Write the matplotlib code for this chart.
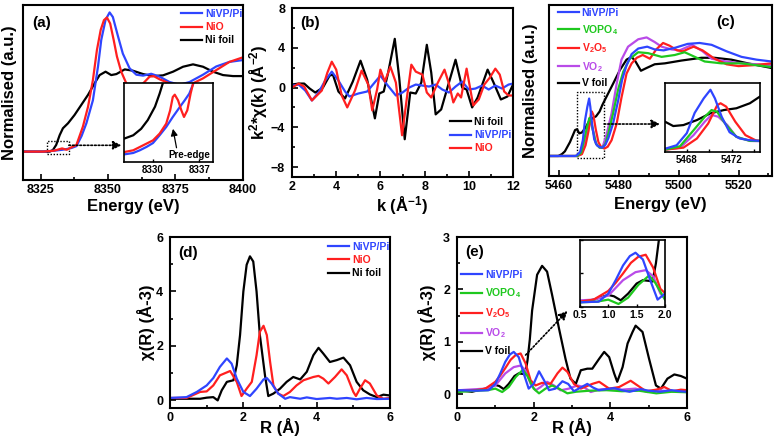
import matplotlib
matplotlib.use('Agg')
import matplotlib.pyplot as plt
from matplotlib.patches import Rectangle
from matplotlib.ticker import MultipleLocator

plt.rcParams['font.family'] = ['Liberation Sans', 'DejaVu Sans']
plt.rcParams['font.weight'] = 'bold'
plt.rcParams['axes.labelweight'] = 'bold'
plt.rcParams['mathtext.fontset'] = 'custom'
plt.rcParams['mathtext.rm'] = 'Liberation Sans:bold'
plt.rcParams['mathtext.it'] = 'Liberation Sans:bold'
plt.rcParams['mathtext.bf'] = 'Liberation Sans:bold'
plt.rcParams['mathtext.default'] = 'rm'

BLUE = '#2f45ff'
RED = '#ff1f1f'
GREEN = '#1ec81e'
PURPLE = '#b94be8'
BLACK = 'black'

# ---------------- (a) Ni K-edge XANES ----------------
nivp_a_e = [8318.5, 8326, 8330, 8333, 8335, 8336.5, 8338.3, 8340.2, 8342, 8344.4, 8346.3, 8347.5,
            8349.1, 8350.6, 8351.8, 8353.7, 8355.5, 8358, 8360.5, 8363, 8366, 8369, 8372.8,
            8376.5, 8380.2, 8385.2, 8390.1, 8395, 8400]
nivp_a_mu = [0.0, 0.0, 0.01, 0.02, 0.03, 0.04, 0.06, 0.17, 0.31, 0.56, 0.93, 1.22, 1.44, 1.52, 1.47,
             1.26, 1.07, 0.91, 0.84, 0.83, 0.85, 0.82, 0.76, 0.73, 0.76, 0.84, 0.93, 0.98, 1.0]
nio_a_e = [8318.5, 8326, 8330, 8333, 8334.7, 8336, 8338.3, 8340.7, 8342.6, 8344.4, 8345.9, 8347.3,
           8348.5, 8349.6, 8350.8, 8352.1, 8353.3, 8354.9, 8356.8, 8358.6, 8361.1, 8363, 8365.4,
           8366.9, 8369.1, 8372.8, 8376.5, 8380.2, 8385.2, 8390.1, 8395, 8400]
nio_a_mu = [0.0, 0.0, 0.01, 0.035, 0.02, 0.04, 0.073, 0.273, 0.49, 0.78, 1.11, 1.33, 1.436, 1.465,
            1.40, 1.22, 1.04, 0.873, 0.745, 0.70, 0.69, 0.745, 0.818, 0.825, 0.79, 0.745, 0.70,
            0.727, 0.80, 0.89, 0.98, 1.03]
nifoil_a_e = [8318.5, 8328.4, 8329.6, 8330.8, 8332.1, 8333.3, 8335.2, 8337.6, 8340.1, 8342.6,
              8345.0, 8346.9, 8349.1, 8351.2, 8353.1, 8356.2, 8359.2, 8363, 8366.6, 8370.4,
              8374.1, 8377.8, 8381.5, 8385.2, 8388.9, 8392.6, 8396.3, 8400]
nifoil_a_mu = [0.0, 0.0, 0.018, 0.073, 0.18, 0.255, 0.31, 0.40, 0.51, 0.62, 0.745, 0.836, 0.873,
               0.836, 0.847, 0.898, 0.884, 0.847, 0.825, 0.833, 0.873, 0.927, 0.953, 0.927,
               0.873, 0.836, 0.825, 0.825]

# pre-edge zoom (inset of a)
nifoil_pre_e = [8325.6, 8327, 8328.2, 8329.2, 8330.3, 8331, 8331.5, 8331.9]
nifoil_pre_mu = [0.0295, 0.0338, 0.042, 0.053, 0.070, 0.0865, 0.100, 0.108]
nio_pre_e = [8325.7, 8327, 8328, 8329, 8330, 8331, 8332, 8332.6, 8333, 8333.3, 8333.8, 8334.3,
             8334.7, 8335.2, 8335.7, 8336.1, 8336.3]
nio_pre_mu = [0.0127, 0.0148, 0.019, 0.0232, 0.0274, 0.0359, 0.0485, 0.0654, 0.0823, 0.0852,
              0.078, 0.0654, 0.057, 0.0654, 0.0865, 0.100, 0.112]
nivp_pre_e = [8325.7, 8327, 8328, 8329, 8330, 8331, 8332, 8333, 8334.1, 8334.8, 8335.5, 8336.1,
              8336.6]
nivp_pre_mu = [0.0097, 0.0114, 0.0148, 0.019, 0.024, 0.0338, 0.0443, 0.057, 0.070, 0.078, 0.0865,
               0.099, 0.112]

# ---------------- (b) k-space EXAFS ----------------
nifoil_k = [2.0, 2.3, 2.55, 2.8, 3.05, 3.4, 3.7, 3.85, 4.1, 4.4, 4.75, 5.1, 5.4, 5.75, 5.95, 6.15,
            6.35, 6.65, 6.85, 7.1, 7.35, 7.6, 7.85, 8.1, 8.3, 8.5, 8.75, 9.1, 9.4, 9.7, 9.9,
            10.15, 10.4, 10.85, 11.1, 11.45, 11.75, 12.0]
nifoil_chi = [0.3, 0.4, 0.4, -0.1, -0.5, 0.0, 1.2, 1.3, -0.4, -1.1, 0.6, 2.7, 0.8, -3.1, -0.6,
              -0.4, 1.5, 4.9, 1.0, -5.2, -0.5, -0.6, 0.5, 4.3, 1.5, -2.7, -2.2, 0.5, 2.8, 0.0,
              -0.2, -2.0, -1.0, 1.8, 0.6, -1.2, -0.9, 0.3]
nivp_k = [2.0, 2.3, 2.6, 2.9, 3.2, 3.5, 3.8, 4.1, 4.4, 4.6, 5.0, 5.4, 5.7, 6.0, 6.3, 6.7, 7.0, 7.3,
          7.6, 7.9, 8.2, 8.5, 8.8, 9.1, 9.4, 9.7, 10.0, 10.3, 10.6, 10.9, 11.2, 11.5, 11.8, 12.0]
nivp_chi = [0.2, 0.3, -0.3, -1.3, -0.5, 0.7, 1.6, 0.7, -0.4, -0.9, -0.6, -0.4, 0.4, 1.2, 0.3,
            -0.8, -0.5, 0.0, 0.3, 0.2, 0.1, 0.3, -0.2, -0.5, 0.1, 0.6, -0.2, -0.1, 0.2, -0.2, 0.2,
            -0.1, 0.3, 0.4]
nio_k = [2.0, 2.3, 2.55, 2.9, 3.35, 3.6, 3.8, 4.0, 4.25, 4.5, 4.85, 5.15, 5.45, 5.63, 5.85, 6.0,
         6.2, 6.45, 6.7, 6.98, 7.2, 7.4, 7.6, 7.9, 8.1, 8.3, 8.6, 8.9, 9.1, 9.3, 9.5, 9.65, 9.9,
         10.2, 10.45, 10.7, 10.95, 11.2, 11.4, 11.6, 11.8, 12.0]
nio_chi = [0.0, 0.4, 0.1, -1.3, -0.3, 1.5, 2.6, 1.8, -0.8, -2.0, -0.3, 1.7, 0.3, -2.3, -0.2, 1.8,
           0.6, 2.1, 0.5, -4.8, -1.0, 2.3, 1.6, 1.3, -0.5, -1.0, 0.5, 1.8, 0.4, -1.5, -0.6, -1.0,
           1.9, -1.8, -1.2, 0.3, 1.0, 1.9, 1.3, -0.4, -0.8, -0.8]

# ---------------- (c) V K-edge XANES ----------------
nivp_c_e = [5456.7, 5462, 5465.5, 5466.1, 5467.1, 5468.0, 5468.7, 5469.5, 5470.1, 5470.5, 5471.1,
            5471.8, 5472.7, 5473.6, 5474.5, 5475.5, 5476.5, 5478.1, 5479.8, 5481.1, 5482.6,
            5484.3, 5486.5, 5489.5, 5492, 5495, 5499, 5503, 5507, 5511, 5516, 5521, 5526, 5531]
nivp_c_mu = [0, 0, 0.0, 0.01, 0.045, 0.17, 0.38, 0.53, 0.62, 0.53, 0.34, 0.18, 0.115, 0.097,
             0.09, 0.12, 0.19, 0.35, 0.60, 0.82, 0.98, 1.10, 1.16, 1.18, 1.15, 1.14, 1.17, 1.21,
             1.22, 1.20, 1.13, 1.07, 1.04, 1.02]
vopo4_c_e = [5456.7, 5462, 5466.1, 5467.4, 5468.6, 5469.6, 5470.2, 5470.7, 5471.4, 5472.4, 5473.6,
             5474.5, 5475.5, 5476.5, 5478.1, 5479.8, 5481.5, 5483.7, 5486.5, 5489.8, 5494.3,
             5498.7, 5502, 5505.4, 5508.7, 5514.3, 5521, 5531]
vopo4_c_mu = [0, 0, 0.0, 0.035, 0.2, 0.34, 0.41, 0.39, 0.27, 0.132, 0.09, 0.09, 0.13, 0.24, 0.46,
              0.72, 0.91, 1.05, 1.12, 1.11, 1.07, 1.09, 1.12, 1.07, 1.02, 1.0, 1.0, 0.96]
v2o5_c_e = [5456.7, 5462, 5466.1, 5467.7, 5468.9, 5469.9, 5470.7, 5471.0, 5471.5, 5472.3, 5473.2,
            5474.1, 5475.2, 5476.3, 5477.6, 5479.3, 5480.9, 5482.6, 5484.3, 5486, 5488, 5490.4,
            5492.5, 5494.8, 5497, 5499.5, 5501.5, 5503.5, 5505, 5508, 5512, 5516, 5520, 5525, 5531]
v2o5_c_mu = [0, 0, 0.0, 0.02, 0.115, 0.27, 0.46, 0.48, 0.445, 0.29, 0.15, 0.097, 0.08, 0.1, 0.17,
             0.35, 0.63, 0.89, 1.0, 1.06, 1.09, 1.05, 1.15, 1.22, 1.19, 1.14, 1.13, 1.16, 1.18,
             1.14, 1.05, 0.99, 0.97, 0.98, 1.0]
vo2_c_e = [5456.7, 5462, 5466.1, 5467.4, 5468.6, 5469.6, 5470.2, 5470.8, 5471.6, 5472.4, 5473.6,
           5474.5, 5475.9, 5477.6, 5479.3, 5480.9, 5483.1, 5486.5, 5489.3, 5492, 5494.3, 5497.6,
           5500.3, 5504.5, 5508, 5511, 5515.9, 5521, 5531]
vo2_c_mu = [0, 0, 0.0, 0.02, 0.15, 0.29, 0.36, 0.34, 0.254, 0.132, 0.09, 0.087, 0.23, 0.46, 0.78,
            1.04, 1.18, 1.26, 1.28, 1.23, 1.18, 1.15, 1.14, 1.20, 1.13, 1.05, 1.02, 1.0, 0.98]
vfoil_c_e = [5456.7, 5459.8, 5461, 5462, 5463.7, 5465.4, 5466.07, 5466.8, 5467.7, 5468.9, 5470.1,
             5471.3, 5472.4, 5473.6, 5474.5, 5475.9, 5478.1, 5480.4, 5482.6, 5484.3, 5485.6,
             5487.4, 5489.3, 5492, 5495.4, 5500.9, 5507.6, 5512, 5517.6, 5523.1, 5531]
vfoil_c_mu = [0, 0, 0.02, 0.05, 0.15, 0.28, 0.289, 0.244, 0.254, 0.306, 0.376, 0.41, 0.428, 0.48,
              0.55, 0.64, 0.78, 0.93, 1.04, 1.07, 1.02, 0.92, 0.95, 0.99, 1.00, 1.03, 1.06, 1.06,
              1.04, 1.00, 0.95]

# ---------------- (d) Ni R-space ----------------
nivp_d_r = [0, 0.45, 0.73, 1.0, 1.18, 1.36, 1.55, 1.68, 1.82, 2.0, 2.18, 2.36, 2.55, 2.64, 2.77,
            2.95, 3.14, 3.27, 3.55, 3.73, 4.0, 4.36, 4.55, 4.82, 5.09, 5.36, 5.64, 6.0]
nivp_d_chi = [0.09, 0.12, 0.31, 0.55, 0.82, 1.23, 1.54, 1.35, 0.8, 0.31, 0.16, 0.43, 0.77, 0.82,
              0.62, 0.25, 0.06, 0.12, 0.06, 0.11, 0.05, 0.09, 0.06, 0.09, 0.04, 0.09, 0.05, 0.06]
nio_d_r = [0, 0.45, 0.82, 1.0, 1.18, 1.36, 1.5, 1.64, 1.82, 1.95, 2.09, 2.23, 2.36, 2.45, 2.55,
           2.64, 2.73, 2.82, 2.95, 3.09, 3.27, 3.45, 3.64, 3.91, 4.05, 4.18, 4.32, 4.5, 4.68, 4.82,
           5.0, 5.07, 5.18, 5.32, 5.45, 5.64, 5.82, 6.0]
nio_d_chi = [0.09, 0.09, 0.31, 0.33, 0.55, 0.92, 1.0, 1.08, 0.68, 0.16, 0.43, 0.68, 1.66, 2.52,
             2.74, 2.40, 1.41, 0.55, 0.25, 0.16, 0.31, 0.55, 0.74, 0.86, 0.9, 0.8, 0.62, 0.86,
             1.14, 0.92, 0.31, 0.16, 0.43, 0.74, 0.62, 0.18, 0.06, 0.09]
nifoil_d_r = [0, 0.45, 0.82, 1.0, 1.18, 1.3, 1.41, 1.55, 1.73, 1.82, 1.91, 2.0, 2.09, 2.18, 2.27,
              2.36, 2.45, 2.59, 2.68, 2.82, 3.0, 3.18, 3.36, 3.55, 3.73, 3.91, 4.05, 4.18, 4.36,
              4.55, 4.73, 4.91, 5.09, 5.27, 5.45, 5.64, 5.82, 6.0]
nifoil_d_chi = [0.06, 0.06, 0.06, 0.1, 0.12, 0.0, 0.37, 0.68, 0.74, 1.29, 2.40, 4.0, 4.98, 5.29,
                5.1, 4.0, 2.4, 0.92, 0.16, 0.25, 0.43, 0.68, 0.86, 0.77, 1.05, 1.66, 1.93, 1.72,
                1.41, 1.48, 1.57, 1.29, 0.68, 0.37, 0.22, 0.12, 0.21, 0.18]

# ---------------- (e) V R-space ----------------
nivp_e_r = [0, 0.5, 0.83, 1.0, 1.13, 1.26, 1.38, 1.48, 1.61, 1.74, 1.87, 2.0, 2.14, 2.27, 2.40,
            2.57, 2.75, 2.9, 3.05, 3.2, 3.4, 3.55, 3.7, 3.9, 4.1, 4.3, 4.5, 4.8, 5.0, 5.3, 5.6,
            5.8, 6.0]
nivp_e_chi = [0.08, 0.07, 0.08, 0.2, 0.4, 0.62, 0.76, 0.81, 0.71, 0.40, 0.11, 0.2, 0.44, 0.27,
              0.08, 0.11, 0.25, 0.2, 0.06, 0.12, 0.2, 0.13, 0.08, 0.1, 0.12, 0.08, 0.05, 0.1,
              0.07, 0.05, 0.08, 0.06, 0.05]
vopo4_e_r = [0, 0.5, 0.8, 1.0, 1.18, 1.35, 1.53, 1.72, 1.83, 2.0, 2.14, 2.31, 2.48, 2.66, 2.88,
             3.1, 3.45, 3.9, 4.3, 4.75, 5.2, 5.6, 6.0]
vopo4_e_chi = [0.045, 0.07, 0.08, 0.11, 0.045, 0.14, 0.33, 0.47, 0.36, 0.11, 0.02, 0.11, 0.17,
               0.11, 0.02, 0.05, 0.07, 0.08, 0.06, 0.07, 0.02, 0.05, 0.04]
v2o5_e_r = [0, 0.5, 0.74, 1.0, 1.13, 1.26, 1.4, 1.53, 1.66, 1.79, 1.92, 2.05, 2.22, 2.44, 2.62,
            2.75, 2.88, 3.05, 3.23, 3.53, 3.71, 3.97, 4.23, 4.53, 4.71, 4.93, 5.2, 5.41, 5.62,
            5.84, 6.0]
v2o5_e_chi = [0.06, 0.08, 0.11, 0.24, 0.36, 0.5, 0.66, 0.75, 0.78, 0.59, 0.27, 0.17, 0.22, 0.2,
              0.4, 0.51, 0.43, 0.2, 0.11, 0.2, 0.24, 0.11, 0.14, 0.26, 0.17, 0.06, 0.09, 0.14,
              0.06, 0.09, 0.08]
vo2_e_r = [0, 0.74, 1.0, 1.26, 1.48, 1.66, 1.79, 1.92, 2.05, 2.18, 2.35, 2.53, 2.7, 2.92, 3.14,
           3.31, 3.49, 3.7, 3.97, 4.3, 4.66, 4.97, 5.18, 5.62, 6.0]
vo2_e_chi = [0.077, 0.11, 0.17, 0.40, 0.52, 0.55, 0.46, 0.2, 0.077, 0.14, 0.24, 0.17, 0.077,
             0.11, 0.17, 0.14, 0.045, 0.09, 0.11, 0.09, 0.11, 0.045, 0.077, 0.06, 0.077]
vfoil_e_r = [0, 0.39, 0.74, 1.0, 1.1, 1.22, 1.35, 1.5, 1.61, 1.72, 1.78, 1.84, 1.9, 1.96, 2.09,
             2.22, 2.35, 2.48, 2.66, 2.83, 2.96, 3.1, 3.23, 3.4, 3.53, 3.71, 3.84, 3.97, 4.10,
             4.18, 4.32, 4.45, 4.58, 4.66, 4.84, 5.01, 5.19, 5.32, 5.49, 5.67, 5.84, 6.0]
vfoil_e_chi = [0.08, 0.05, 0.11, 0.18, 0.16, 0.10, 0.2, 0.35, 0.40, 0.39, 0.38, 0.65, 1.05, 1.6,
               2.28, 2.45, 2.34, 1.90, 1.26, 0.68, 0.30, 0.20, 0.46, 0.49, 0.49, 0.68, 0.81,
               0.71, 0.40, 0.24, 0.52, 0.97, 1.19, 1.31, 1.19, 0.68, 0.17, 0.11, 0.30, 0.38,
               0.35, 0.30]

LW = 1.6


def style(ax, xmaj, xmin, ymaj=None, ymin=None, size=9, spine=1.5):
    for s in ax.spines.values():
        s.set_linewidth(spine)
    ax.xaxis.set_major_locator(MultipleLocator(xmaj))
    ax.xaxis.set_minor_locator(MultipleLocator(xmin))
    if ymaj is None:
        ax.set_yticks([])
    else:
        ax.yaxis.set_major_locator(MultipleLocator(ymaj))
        ax.yaxis.set_minor_locator(MultipleLocator(ymin))
    ax.tick_params(which='both', direction='in', width=1.2, labelsize=size)
    ax.tick_params(axis='x', pad=3)
    ax.tick_params(axis='y', pad=5)
    ax.tick_params(which='major', length=4)
    ax.tick_params(which='minor', length=2.5)


def legend(ax, handles, labels, x, y, spacing=0.3):
    ax.legend(handles, labels, loc='upper left', bbox_to_anchor=(x, y), frameon=False,
              fontsize=7.5, handlelength=2.0, handletextpad=0.3, labelspacing=spacing,
              borderpad=0, borderaxespad=0, labelcolor='linecolor')


def dotted_arrow(ax, start, end):
    ax.annotate('', xy=end, xytext=start,
                arrowprops=dict(arrowstyle='-|>,head_length=0.5,head_width=0.25',
                                ls=(0, (1, 1.2)), lw=1.2, color='k', shrinkA=0, shrinkB=0))


fig = plt.figure(figsize=(7.76, 4.45), dpi=100)

# ---- panel (a)
ax_a = fig.add_axes([0.0296, 0.5955, 0.2835, 0.393])
la0, = ax_a.plot(nifoil_a_e, nifoil_a_mu, color=BLACK, lw=LW, label='Ni foil')
la1, = ax_a.plot(nivp_a_e, nivp_a_mu, color=BLUE, lw=LW, label='NiVP/Pi')
la2, = ax_a.plot(nio_a_e, nio_a_mu, color=RED, lw=LW, label='NiO')
ax_a.set_xlim(8318.5, 8400)
ax_a.set_ylim(-0.31, 1.6)
style(ax_a, 25, 12.5)
ax_a.set_xlabel('Energy (eV)', fontsize=12)
ax_a.set_ylabel('Normalised (a.u.)', fontsize=12)
ax_a.yaxis.set_label_coords(-0.025, 0.5)
ax_a.xaxis.set_label_coords(0.5, -0.11)
legend(ax_a, [la1, la2, la0], ['NiVP/Pi', 'NiO', 'Ni foil'], 0.718, 0.977)
ax_a.text(0.041, 0.90, '(a)', transform=ax_a.transAxes, fontsize=11, va='center')
ax_a.add_patch(Rectangle((8327.5, -0.025), 8.0, 0.141, fill=False, ls=(0, (1, 1.2)), lw=1.0,
                         ec='k'))
dotted_arrow(ax_a, (8335.5, 0.069), (8355.0, 0.069))

ins_a = fig.add_axes([0.1598, 0.6360, 0.1147, 0.1775])
ins_a.plot(nifoil_pre_e, nifoil_pre_mu, color=BLACK, lw=LW)
ins_a.plot(nivp_pre_e, nivp_pre_mu, color=BLUE, lw=LW)
ins_a.plot(nio_pre_e, nio_pre_mu, color=RED, lw=LW)
ins_a.set_xlim(8325.6, 8339.1)
ins_a.set_ylim(0, 0.1)
ins_a.set_xticks([8330, 8337])
ins_a.set_yticks([])
for s in ins_a.spines.values():
    s.set_linewidth(1.2)
ins_a.tick_params(direction='in', length=2.5, width=1, labelsize=7, pad=2)
ins_a.text(0.73, 0.09, 'Pre-edge', transform=ins_a.transAxes, fontsize=7, ha='center',
           va='center')
ins_a.annotate('', xy=(0.55, 0.42), xytext=(0.59, 0.18), xycoords='axes fraction',
               arrowprops=dict(arrowstyle='-|>,head_length=0.4,head_width=0.2', lw=0.9,
                               color='k', shrinkA=0, shrinkB=0))

# ---- panel (b)
ax_b = fig.add_axes([0.3763, 0.6022, 0.2848, 0.3798])
lb0, = ax_b.plot(nifoil_k, nifoil_chi, color=BLACK, lw=LW)
lb1, = ax_b.plot(nivp_k, nivp_chi, color=BLUE, lw=LW)
lb2, = ax_b.plot(nio_k, nio_chi, color=RED, lw=LW)
ax_b.set_xlim(2, 12)
ax_b.set_ylim(-9, 8)
style(ax_b, 2, 1, 4, 2)
ax_b.set_xlabel('k (Å$^{-1}$)', fontsize=12)
ax_b.set_ylabel('k$^{2}$*χ(k) (Å$^{-2}$)', fontsize=12)
ax_b.yaxis.set_label_coords(-0.10, 0.5)
ax_b.xaxis.set_label_coords(0.5, -0.10)
legend(ax_b, [lb0, lb1, lb2], ['Ni foil', 'NiVP/Pi', 'NiO'], 0.715, 0.355)
ax_b.text(0.036, 0.91, '(b)', transform=ax_b.transAxes, fontsize=11, va='center')

# ---- panel (c)
ax_c = fig.add_axes([0.7075, 0.6045, 0.2874, 0.3843])
c_series = [(vfoil_c_e, vfoil_c_mu, BLACK, 'V foil'),
            (vo2_c_e, vo2_c_mu, PURPLE, 'VO$_2$'),
            (v2o5_c_e, v2o5_c_mu, RED, 'V$_2$O$_5$'),
            (vopo4_c_e, vopo4_c_mu, GREEN, 'VOPO$_4$'),
            (nivp_c_e, nivp_c_mu, BLUE, 'NiVP/Pi')]
lines_c = []
for e, mu, c, name in c_series:
    ln, = ax_c.plot(e, mu, color=c, lw=LW)
    lines_c.append(ln)
ax_c.set_xlim(5456.7, 5531.2)
ax_c.set_ylim(-0.216, 1.63)
style(ax_c, 20, 10)
ax_c.set_xlabel('Energy (eV)', fontsize=12)
ax_c.set_ylabel('Normalised (a.u.)', fontsize=12)
ax_c.yaxis.set_label_coords(-0.05, 0.5)
ax_c.xaxis.set_label_coords(0.5, -0.12)
legend(ax_c, lines_c[::-1], [s[3] for s in c_series][::-1], 0.039, 0.982, spacing=0.45)
ax_c.text(0.752, 0.90, '(c)', transform=ax_c.transAxes, fontsize=11, va='center')
ax_c.add_patch(Rectangle((5465.9, -0.025), 9.2, 0.715, fill=False, ls=(0, (1, 1.2)), lw=1.0,
                         ec='k'))
dotted_arrow(ax_c, (5475.1, 0.345), (5493.8, 0.345))

ins_c = fig.add_axes([0.8570, 0.6584, 0.1224, 0.1551])
for e, mu, c, name in c_series:
    ins_c.plot(e, mu, color=c, lw=LW)
ins_c.set_xlim(5466.07, 5474.5)
ins_c.set_ylim(-0.025, 0.69)
ins_c.set_xticks([5468, 5472])
ins_c.xaxis.set_minor_locator(MultipleLocator(2))
ins_c.set_yticks([])
for s in ins_c.spines.values():
    s.set_linewidth(1.2)
ins_c.tick_params(which='both', direction='in', length=2.5, width=1, labelsize=7, pad=2)

# ---- panel (d)
ax_d = fig.add_axes([0.2191, 0.0831, 0.2835, 0.3843])
ld0, = ax_d.plot(nifoil_d_r, nifoil_d_chi, color=BLACK, lw=LW)
ld1, = ax_d.plot(nio_d_r, nio_d_chi, color=RED, lw=LW)
ld2, = ax_d.plot(nivp_d_r, nivp_d_chi, color=BLUE, lw=LW)
ax_d.set_xlim(0, 6)
ax_d.set_ylim(-0.28, 6)
style(ax_d, 2, 1, 2, 1)
ax_d.set_xlabel('R (Å)', fontsize=12)
ax_d.set_ylabel('χ(R) (Å-3)', fontsize=12)
ax_d.yaxis.set_label_coords(-0.07, 0.5)
ax_d.xaxis.set_label_coords(0.5, -0.06)
legend(ax_d, [ld2, ld1, ld0], ['NiVP/Pi', 'NiO', 'Ni foil'], 0.718, 0.971)
ax_d.text(0.036, 0.905, '(d)', transform=ax_d.transAxes, fontsize=11, va='center')

# ---- panel (e)
ax_e = fig.add_axes([0.5889, 0.0831, 0.2964, 0.3843])
e_series = [(vfoil_e_r, vfoil_e_chi, BLACK, 'V foil'),
            (vo2_e_r, vo2_e_chi, PURPLE, 'VO$_2$'),
            (v2o5_e_r, v2o5_e_chi, RED, 'V$_2$O$_5$'),
            (vopo4_e_r, vopo4_e_chi, GREEN, 'VOPO$_4$'),
            (nivp_e_r, nivp_e_chi, BLUE, 'NiVP/Pi')]
lines_e = []
for r, chi, c, name in e_series:
    ln, = ax_e.plot(r, chi, color=c, lw=LW)
    lines_e.append(ln)
ax_e.set_xlim(0, 6)
ax_e.set_ylim(-0.26, 3.0)
style(ax_e, 2, 1, 1, 0.5)
ax_e.set_xlabel('R (Å)', fontsize=12)
ax_e.set_ylabel('χ(R) (Å-3)', fontsize=12)
ax_e.yaxis.set_label_coords(-0.09, 0.5)
ax_e.xaxis.set_label_coords(0.5, -0.06)
legend(ax_e, lines_e[::-1], [s[3] for s in e_series][::-1], 0.017, 0.807, spacing=0.6)
ax_e.text(0.035, 0.914, '(e)', transform=ax_e.transAxes, fontsize=11, va='center')
dotted_arrow(ax_e, (1.79, 0.75), (2.88, 1.59))

ins_e = fig.add_axes([0.7474, 0.3101, 0.1095, 0.1506])
for r, chi, c, name in e_series:
    ins_e.plot(r, chi, color=c, lw=LW)
ins_e.set_xlim(0.5, 2.0)
ins_e.set_ylim(0, 1.0)
ins_e.xaxis.set_major_locator(MultipleLocator(0.5))
ins_e.yaxis.set_major_locator(MultipleLocator(0.5))
ins_e.set_yticklabels([])
for s in ins_e.spines.values():
    s.set_linewidth(1.2)
ins_e.tick_params(direction='in', length=2.5, width=1, labelsize=7.5, pad=2)

fig.savefig('out.png', dpi=100)
